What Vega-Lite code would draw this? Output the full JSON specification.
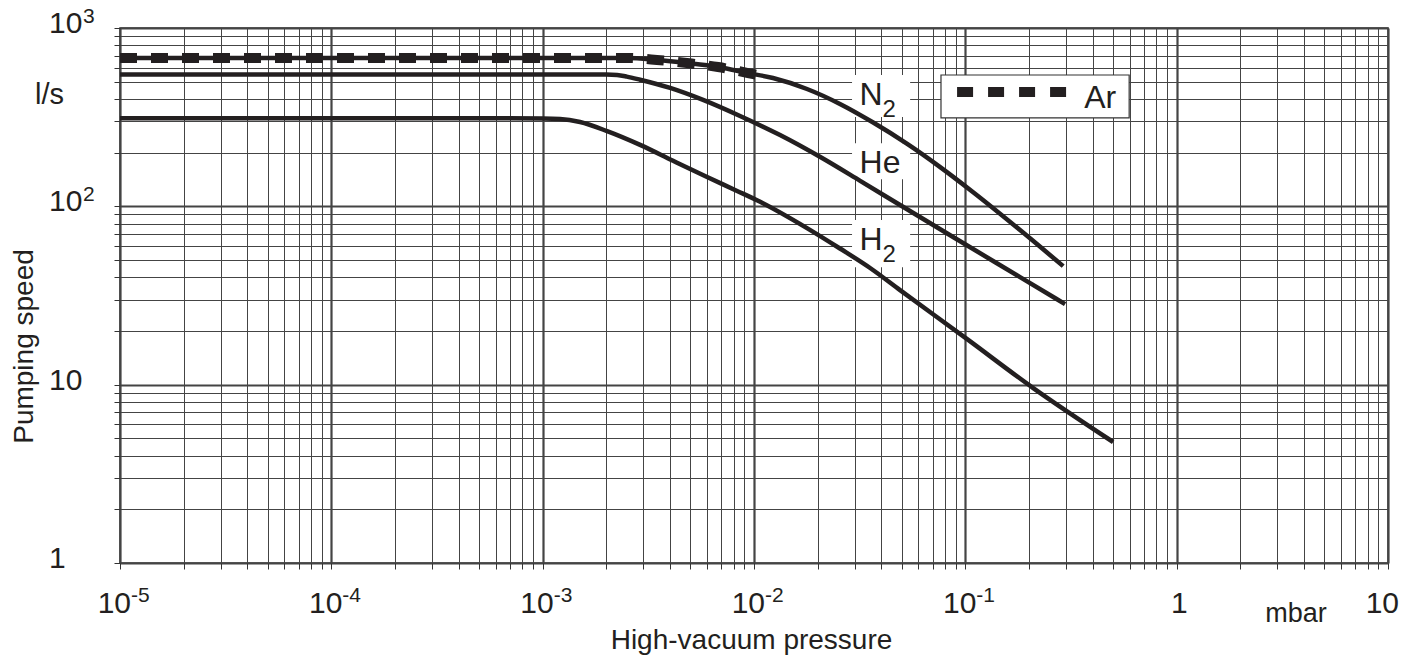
{
  "$schema": "https://vega.github.io/schema/vega-lite/v6.json",
  "width": 1268,
  "height": 535,
  "autosize": {"type": "none"},
  "padding": {"left": 120, "top": 28, "right": 28, "bottom": 93},
  "background": "white",
  "config": {
    "view": {"stroke": "#2b2b2b", "strokeWidth": 1.5},
    "font": "Liberation Sans"
  },
  "datasets": {
    "curves": [
      {"gas": "N2", "x": 0.00001, "y": 679},
      {"gas": "N2", "x": 0.001, "y": 679},
      {"gas": "N2", "x": 0.0025, "y": 679},
      {"gas": "N2", "x": 0.003475, "y": 662},
      {"gas": "N2", "x": 0.004817, "y": 636},
      {"gas": "N2", "x": 0.006761, "y": 604},
      {"gas": "N2", "x": 0.009376, "y": 559},
      {"gas": "N2", "x": 0.0123, "y": 524},
      {"gas": "N2", "x": 0.01781, "y": 455},
      {"gas": "N2", "x": 0.02551, "y": 375},
      {"gas": "N2", "x": 0.03664, "y": 295},
      {"gas": "N2", "x": 0.05309, "y": 224},
      {"gas": "N2", "x": 0.07603, "y": 166},
      {"gas": "N2", "x": 0.1089, "y": 120},
      {"gas": "N2", "x": 0.1815, "y": 73.6},
      {"gas": "N2", "x": 0.2904, "y": 46.2},
      {"gas": "He", "x": 0.00001, "y": 548},
      {"gas": "He", "x": 0.001, "y": 548},
      {"gas": "He", "x": 0.002, "y": 548},
      {"gas": "He", "x": 0.00225, "y": 545},
      {"gas": "He", "x": 0.0025, "y": 534},
      {"gas": "He", "x": 0.00289, "y": 513},
      {"gas": "He", "x": 0.00401, "y": 461},
      {"gas": "He", "x": 0.00574, "y": 395},
      {"gas": "He", "x": 0.00859, "y": 321},
      {"gas": "He", "x": 0.01328, "y": 251},
      {"gas": "He", "x": 0.0206, "y": 189},
      {"gas": "He", "x": 0.0318, "y": 139},
      {"gas": "He", "x": 0.0491, "y": 101.7},
      {"gas": "He", "x": 0.0875, "y": 67.3},
      {"gas": "He", "x": 0.1815, "y": 40.1},
      {"gas": "He", "x": 0.2965, "y": 28.3},
      {"gas": "H2", "x": 0.00001, "y": 312},
      {"gas": "H2", "x": 0.0006, "y": 312},
      {"gas": "H2", "x": 0.001, "y": 311},
      {"gas": "H2", "x": 0.001209, "y": 309},
      {"gas": "H2", "x": 0.001503, "y": 297},
      {"gas": "H2", "x": 0.002018, "y": 264},
      {"gas": "H2", "x": 0.002891, "y": 221},
      {"gas": "H2", "x": 0.00414, "y": 180},
      {"gas": "H2", "x": 0.005998, "y": 146},
      {"gas": "H2", "x": 0.008318, "y": 122},
      {"gas": "H2", "x": 0.01069, "y": 106},
      {"gas": "H2", "x": 0.01781, "y": 75.5},
      {"gas": "H2", "x": 0.02551, "y": 58.0},
      {"gas": "H2", "x": 0.03543, "y": 45.1},
      {"gas": "H2", "x": 0.0491, "y": 33.9},
      {"gas": "H2", "x": 0.102, "y": 18.0},
      {"gas": "H2", "x": 0.2096, "y": 9.57},
      {"gas": "H2", "x": 0.5006, "y": 4.77},
      {"gas": "Ar", "x": 0.00001, "y": 679},
      {"gas": "Ar", "x": 0.001, "y": 679},
      {"gas": "Ar", "x": 0.0025, "y": 679},
      {"gas": "Ar", "x": 0.003475, "y": 662},
      {"gas": "Ar", "x": 0.004817, "y": 636},
      {"gas": "Ar", "x": 0.006761, "y": 604},
      {"gas": "Ar", "x": 0.009376, "y": 559},
      {"gas": "Ar", "x": 0.01034, "y": 546}
    ],
    "boxes": [
      {"x": 0.0291, "x2": 0.0548, "y": 545, "y2": 317},
      {"x": 0.0291, "x2": 0.0548, "y": 226, "y2": 142},
      {"x": 0.0291, "x2": 0.0548, "y": 83.8, "y2": 45.6}
    ],
    "labels": [
      {"t": "N", "sub": "2", "x": 0.0316, "y": 370},
      {"t": "He", "sub": "", "x": 0.0316, "y": 154},
      {"t": "H", "sub": "2", "x": 0.0316, "y": 56.9}
    ],
    "legendbox": [{"x": 0.0767, "x2": 0.596, "y": 545, "y2": 313}],
    "legendline": [{"x": 0.0914, "x2": 0.3, "y": 437}],
    "legendtext": [{"t": "Ar", "x": 0.365, "y": 356}],
    "xlab": [
      {"x": 0.00001, "y": 1, "b": "10", "e": "-5"},
      {"x": 0.0001, "y": 1, "b": "10", "e": "-4"},
      {"x": 0.001, "y": 1, "b": "10", "e": "-3"},
      {"x": 0.01, "y": 1, "b": "10", "e": "-2"},
      {"x": 0.1, "y": 1, "b": "10", "e": "-1"},
      {"x": 1, "y": 1, "b": "1", "e": ""},
      {"x": 10, "y": 1, "b": "10", "e": ""}
    ],
    "ylab": [
      {"x": 0.00001, "y": 1000, "b": "10", "e": "3"},
      {"x": 0.00001, "y": 100, "b": "10", "e": "2"},
      {"x": 0.00001, "y": 10, "b": "10", "e": ""},
      {"x": 0.00001, "y": 1, "b": "1", "e": ""}
    ],
    "ann": [
      {"t": "l/s", "x": 0.00000396, "y": 375, "fs": 29},
      {"t": "mbar", "x": 2.623, "y": 0.466, "fs": 27}
    ]
  },
  "encoding": {
    "x": {
      "field": "x", "type": "quantitative",
      "scale": {"type": "log", "domain": [0.00001, 10], "nice": false},
      "axis": {
        "values": [0.00001, 0.00002, 0.00003, 0.00004, 0.00005, 0.00006, 0.00007, 0.00008, 0.00009,
                   0.0001, 0.0002, 0.0003, 0.0004, 0.0005, 0.0006, 0.0007, 0.0008, 0.0009,
                   0.001, 0.002, 0.003, 0.004, 0.005, 0.006, 0.007, 0.008, 0.009,
                   0.01, 0.02, 0.03, 0.04, 0.05, 0.06, 0.07, 0.08, 0.09,
                   0.1, 0.2, 0.3, 0.4, 0.5, 0.6, 0.7, 0.8, 0.9,
                   1, 2, 3, 4, 5, 6, 7, 8, 9, 10],
        "labels": false,
        "domain": false,
        "ticks": true,
        "tickSize": 6,
        "tickColor": "#333333",
        "tickWidth": 1,
        "grid": true,
        "gridColor": "#444444",
        "gridOpacity": 1,
        "gridWidth": {"condition": {"test": "abs(log(datum.value)/LN10 - round(log(datum.value)/LN10)) < 0.001", "value": 2.2}, "value": 1},
        "title": "High-vacuum pressure",
        "titleFont": "Liberation Sans",
        "titleFontSize": 28,
        "titleFontWeight": "normal",
        "titleColor": "#231f20",
        "titleX": 631,
        "titleY": 85,
        "titleAlign": "center",
        "titleBaseline": "alphabetic"
      }
    },
    "y": {
      "field": "y", "type": "quantitative",
      "scale": {"type": "log", "domain": [1, 1000], "nice": false},
      "axis": {
        "values": [1, 2, 3, 4, 5, 6, 7, 8, 9, 10, 20, 30, 40, 50, 60, 70, 80, 90, 100, 200, 300, 400, 500, 600, 700, 800, 900, 1000],
        "labels": false,
        "domain": false,
        "ticks": true,
        "tickSize": 6,
        "tickColor": "#333333",
        "tickWidth": 1,
        "grid": true,
        "gridColor": "#444444",
        "gridOpacity": 1,
        "gridWidth": {"condition": {"test": "abs(log(datum.value)/LN10 - round(log(datum.value)/LN10)) < 0.001", "value": 2.2}, "value": 1},
        "title": "Pumping speed",
        "titleFont": "Liberation Sans",
        "titleFontSize": 28,
        "titleFontWeight": "normal",
        "titleColor": "#231f20",
        "titleAngle": 270,
        "titleX": -96,
        "titleY": 318,
        "titleAlign": "center",
        "titleBaseline": "middle"
      }
    }
  },
  "layer": [
    {
      "data": {"name": "boxes"},
      "mark": {"type": "rect", "fill": "white", "strokeWidth": 0},
      "encoding": {"x2": {"field": "x2"}, "y2": {"field": "y2"}}
    },
    {
      "data": {"name": "curves"},
      "transform": [{"filter": "datum.gas !== 'Ar'"}],
      "mark": {"type": "line", "color": "#231f20", "strokeWidth": 4.5, "interpolate": "monotone", "strokeCap": "butt"},
      "encoding": {"detail": {"field": "gas", "type": "nominal"}}
    },
    {
      "data": {"name": "curves"},
      "transform": [{"filter": "datum.gas === 'Ar'"}],
      "mark": {"type": "line", "color": "#231f20", "strokeWidth": 10, "strokeDash": [17, 14], "interpolate": "monotone", "strokeCap": "butt"},
      "encoding": {}
    },
    {
      "data": {"name": "labels"},
      "mark": {"type": "text", "align": "left", "baseline": "alphabetic", "fontSize": 32, "font": "Liberation Sans", "fill": "#231f20"},
      "encoding": {"text": {"field": "t"}}
    },
    {
      "data": {"name": "labels"},
      "mark": {"type": "text", "align": "left", "baseline": "alphabetic", "fontSize": 24, "dx": 23, "dy": 12, "font": "Liberation Sans", "fill": "#231f20"},
      "encoding": {"text": {"field": "sub"}}
    },
    {
      "data": {"name": "legendbox"},
      "mark": {"type": "rect", "fill": "white", "stroke": "#333333", "strokeWidth": 1.2},
      "encoding": {"x2": {"field": "x2"}, "y2": {"field": "y2"}}
    },
    {
      "data": {"name": "legendline"},
      "mark": {"type": "rule", "color": "#231f20", "strokeWidth": 10, "strokeDash": [16, 15], "strokeCap": "butt"},
      "encoding": {"x2": {"field": "x2"}}
    },
    {
      "data": {"name": "legendtext"},
      "mark": {"type": "text", "align": "left", "baseline": "alphabetic", "fontSize": 32, "font": "Liberation Sans", "fill": "#231f20"},
      "encoding": {"text": {"field": "t"}}
    },
    {
      "data": {"name": "xlab"},
      "mark": {"type": "text", "align": "right", "baseline": "alphabetic", "fontSize": 30, "dx": 11, "dy": 50, "font": "Liberation Sans", "fill": "#231f20"},
      "encoding": {"text": {"field": "b"}}
    },
    {
      "data": {"name": "xlab"},
      "mark": {"type": "text", "align": "left", "baseline": "alphabetic", "fontSize": 21, "dx": 11, "dy": 39, "font": "Liberation Sans", "fill": "#231f20"},
      "encoding": {"text": {"field": "e"}}
    },
    {
      "data": {"name": "ylab"},
      "mark": {"type": "text", "align": "left", "baseline": "alphabetic", "fontSize": 30, "dx": -71, "dy": 5, "font": "Liberation Sans", "fill": "#231f20"},
      "encoding": {"text": {"field": "b"}}
    },
    {
      "data": {"name": "ylab"},
      "mark": {"type": "text", "align": "left", "baseline": "alphabetic", "fontSize": 21, "dx": -37, "dy": -5, "font": "Liberation Sans", "fill": "#231f20"},
      "encoding": {"text": {"field": "e"}}
    },
    {
      "data": {"name": "ann"},
      "mark": {"type": "text", "align": "left", "baseline": "alphabetic", "font": "Liberation Sans", "fill": "#231f20"},
      "encoding": {
        "size": {"field": "fs", "type": "quantitative", "scale": null, "legend": null},
        "text": {"field": "t"}
      }
    }
  ]
}
